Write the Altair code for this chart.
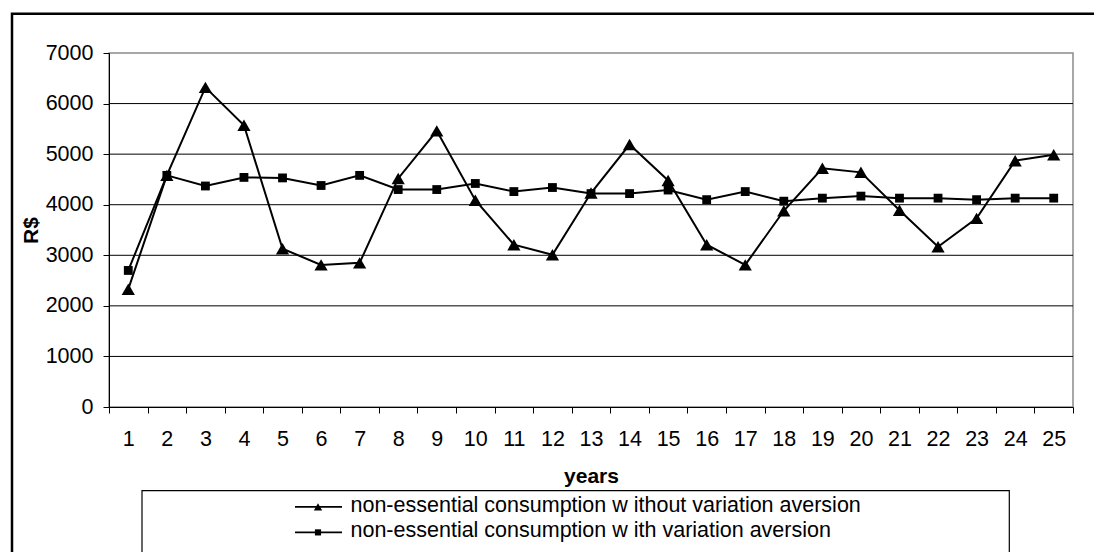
import altair as alt
import pandas as pd

# Categories (years) and the two consumption series, in R$
years = ["1", "2", "3", "4", "5", "6", "7", "8", "9", "10", "11", "12", "13",
         "14", "15", "16", "17", "18", "19", "20", "21", "22", "23", "24", "25"]
without_aversion = [2330, 4580, 6320, 5570, 3130, 2810, 2850, 4520, 5460, 4090,
                    3210, 3010, 4230, 5190, 4480, 3210, 2810, 3880, 4720, 4640,
                    3890, 3170, 3730, 4870, 4990]
with_aversion = [2700, 4580, 4370, 4540, 4530, 4380, 4580, 4300, 4300, 4420,
                 4260, 4340, 4220, 4220, 4290, 4100, 4260, 4070, 4130, 4170,
                 4130, 4130, 4100, 4130, 4130]
series_names = ["non-essential consumption w ithout variation aversion",
                "non-essential consumption w ith variation aversion"]
series_shapes = ["triangle-up", "square"]
y_ticks = [0, 1000, 2000, 3000, 4000, 5000, 6000, 7000]
grid_ticks = [1000, 2000, 3000, 4000, 5000, 6000]

FONT = "Liberation Sans"
W, H = 964, 354

rows = []
for name, vals in zip(series_names, [without_aversion, with_aversion]):
    for yr, v in zip(years, vals):
        rows.append({"year": yr, "value": v, "series": name})
df = pd.DataFrame(rows)

x_enc = alt.X(
    "year:O", sort=years,
    scale=alt.Scale(type="band", paddingInner=0, paddingOuter=0),
    axis=alt.Axis(title="years", labelAngle=0, tickBand="extent", tickSize=6,
                  tickColor="black", domainColor="black", domainWidth=1,
                  labelFont=FONT, labelFontSize=21.5, labelColor="black",
                  labelPadding=15, titleFont=FONT, titleFontSize=21,
                  titleFontWeight="bold", titleColor="black",
                  titleBaseline="alphabetic", titleY=75, grid=False),
)
y_enc = alt.Y(
    "value:Q",
    scale=alt.Scale(domain=[0, 7000], nice=False, zero=True),
    axis=alt.Axis(title="R$", values=y_ticks, format="d", tickSize=6,
                  tickColor="black", domainColor="black", domainWidth=1,
                  grid=False, labelFont=FONT, labelFontSize=21.5,
                  labelColor="black", labelPadding=10, titleFont=FONT,
                  titleFontSize=21, titleFontWeight="bold", titleColor="black",
                  titleX=-78, titleY=H / 2, titleAlign="center",
                  titleBaseline="middle", titleAngle=270),
)

grid = alt.Chart(pd.DataFrame({"tick": grid_ticks})).mark_rule(
    color="black", strokeWidth=1
).encode(y=alt.Y("tick:Q"))

lines = alt.Chart(df).mark_line(color="black", strokeWidth=2).encode(
    x=x_enc, y=y_enc, detail="series:N"
)

points = alt.Chart(df).mark_point(filled=True, color="black", opacity=1).encode(
    x=alt.X("year:O", sort=years),
    y=alt.Y("value:Q"),
    shape=alt.Shape("series:N", scale=alt.Scale(domain=series_names, range=series_shapes), legend=None),
    size=alt.Size("series:N", scale=alt.Scale(domain=series_names, range=[175, 78]), legend=None),
)

one = alt.Data(values=[{"k": 0}])

# outer frame of the figure
frame = alt.Chart(one).mark_rect(fillOpacity=0, stroke="black", strokeWidth=2.5).encode(
    x=alt.value(-97), x2=alt.value(1000), y=alt.value(-39.3), y2=alt.value(600)
)

# legend box and entries
legend_box = alt.Chart(one).mark_rect(fillOpacity=0, stroke="black", strokeWidth=1.2).encode(
    x=alt.value(33), x2=alt.value(900.3), y=alt.value(437.7), y2=alt.value(600)
)

legend_layers = []
row_line_y = [453.9, 479.4]
row_text_y = [459.4, 484.3]
legend_sizes = [70, 38]
for name, shp, ly, ty, sz in zip(series_names, series_shapes, row_line_y, row_text_y, legend_sizes):
    legend_layers.append(
        alt.Chart(one).mark_rule(color="black", strokeWidth=1.8).encode(
            x=alt.value(186), x2=alt.value(233), y=alt.value(ly)))
    legend_layers.append(
        alt.Chart(one).mark_point(filled=True, color="black", opacity=1, shape=shp, size=sz).encode(
            x=alt.value(209), y=alt.value(ly)))
    legend_layers.append(
        alt.Chart(one).mark_text(font=FONT, fontSize=21.5, color="black", align="left",
                                 baseline="alphabetic", text=name).encode(
            x=alt.value(241.5), y=alt.value(ty)))

chart = alt.layer(grid, lines, points, frame, legend_box, *legend_layers).properties(
    width=W, height=H,
    autosize=alt.AutoSizeParams(type="none"),
    padding={"left": 109, "top": 53, "right": 21, "bottom": 145},
    background="white",
).configure_view(stroke="#8a8a8a", strokeWidth=1.5)

chart.save("out.html", embed_options={"renderer": "svg", "actions": False})
